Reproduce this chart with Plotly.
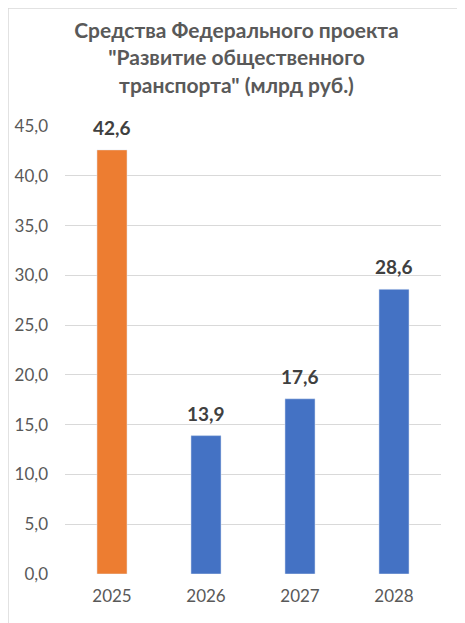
import plotly.graph_objects as go

# Data
years = ["2025", "2026", "2027", "2028"]
values = [42.6, 13.9, 17.6, 28.6]
bar_colors = ["#ED7D31", "#4472C4", "#4472C4", "#4472C4"]
tick_vals = [0, 5, 10, 15, 20, 25, 30, 35, 40, 45]
tick_text = ["{:.1f}".format(v).replace(".", ",") for v in tick_vals]

# page body adds 8px margin, so the figure is made 8px smaller
W, H = 457, 615
ML, MR, MT, MB = 57, 24, 118, 49
pw, ph = W - ML - MR, H - MT - MB


def px_x(fx):
    return (fx - ML) / pw


def px_y(fy):
    return (MT + ph - fy) / ph


fig = go.Figure(go.Bar(
    x=years,
    y=values,
    marker_color=bar_colors,
))

# value labels above the bars (category index, year strings would be read as numbers)
for i, v in enumerate(values):
    fig.add_annotation(
        x=i, y=v, text="<b>" + str(v).replace(".", ",") + "</b>",
        showarrow=False, yanchor="bottom", yshift=9,
        font=dict(family="Lato", size=19, color="#404040"),
    )

fig.update_layout(
    width=W, height=H,
    margin=dict(l=ML, r=MR, t=MT, b=MB),
    paper_bgcolor="white",
    plot_bgcolor="white",
    bargap=0.68,
    showlegend=False,
    font=dict(family="Lato", color="#595959"),
    title=dict(
        text="<b>Средства Федерального проекта<br>\"Развитие общественного<br>транспорта\" (млрд руб.)</b>",
        x=0.5, xanchor="center",
        y=1 - 30 / H, yanchor="top",
        font=dict(family="Lato", size=21, color="#595959"),
    ),
    xaxis=dict(
        type="category",
        automargin=False,
        showgrid=False,
        tickfont=dict(size=17, color="#595959"),
        ticks="",
        ticklabelstandoff=10,
    ),
    yaxis=dict(
        range=[0, 45],
        automargin=False,
        tickvals=tick_vals,
        ticktext=tick_text,
        showgrid=True,
        gridcolor="#D9D9D9",
        gridwidth=1,
        zeroline=False,
        tickfont=dict(size=17, color="#595959"),
        ticks="",
        ticklabelstandoff=16,
    ),
    shapes=[dict(
        type="rect", xref="paper", yref="paper",
        x0=px_x(0), x1=px_x(W + 6),
        y0=px_y(H + 6), y1=px_y(0),
        line=dict(color="#D9D9D9", width=1.5),
        layer="below",
    )],
)

fig.write_html("out.html")
